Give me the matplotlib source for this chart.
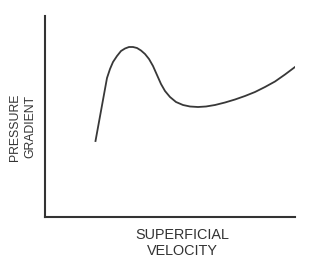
import matplotlib
matplotlib.use("Agg")
from matplotlib import pyplot as plt

plt.rcParams['font.family'] = ['Liberation Sans', 'DejaVu Sans']

# velocity / pressure-gradient readings (arbitrary units)
velocity = [50.5, 62, 65, 68, 72, 76, 80, 84, 88, 92, 96, 100, 104, 108, 112,
            116, 120, 125, 131, 138, 145, 153, 161, 170, 180, 190, 200, 210,
            220, 230, 240, 250]
gradient = [76, 139, 148, 155, 161, 166, 168.5, 170, 170, 169, 166.5, 163,
            158, 151, 142, 133, 126, 120, 115, 112, 110.5, 110, 110.5, 112,
            114.5, 117.5, 121, 125, 130, 135.5, 142.5, 150]

xlabel = "SUPERFICIAL\nVELOCITY"
ylabel = "PRESSURE\nGRADIENT"

fig = plt.figure(figsize=(3.18, 2.70), dpi=100)
ax = fig.add_axes([45/318, 53/270, 250/318, 201/270])

ax.plot(velocity, gradient, color='#383838', lw=1.3)
ax.set_xlim(0, 250)
ax.set_ylim(0, 201)
ax.set_xticks([])
ax.set_yticks([])
for s in ['top', 'right']:
    ax.spines[s].set_visible(False)
for s in ['left', 'bottom']:
    ax.spines[s].set_color('#333333')
    ax.spines[s].set_linewidth(1.5)

fig.text(182.5/318, 1 - 243/270, xlabel, ha='center', va='center',
         fontsize=10.4, color='#333333', linespacing=1.15)
fig.text(23/318, 1 - 127/270, ylabel, ha='center', va='center', rotation=90,
         fontsize=8.8, color='#333333', linespacing=1.4)

fig.savefig("out.png", dpi=100, facecolor='white')
